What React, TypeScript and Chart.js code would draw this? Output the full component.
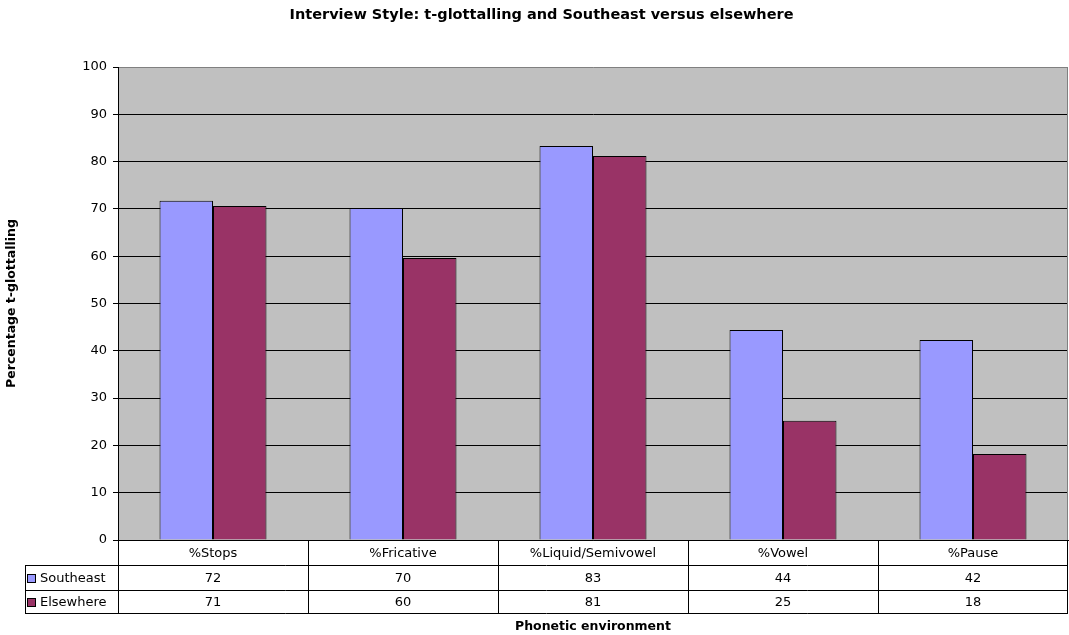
import React, { useEffect, useRef } from "react";
import { Chart, registerables } from "chart.js";

Chart.register(...registerables);

const CATEGORIES = ["%Stops", "%Fricative", "%Liquid/Semivowel", "%Vowel", "%Pause"];
const SOUTHEAST = [71.7, 70.2, 83.3, 44.4, 42.3];
const ELSEWHERE = [70.6, 59.6, 81.2, 25.2, 18.2];
const SERIES_NAMES = ["Southeast", "Elsewhere"];
const SERIES_COLORS = ["#9999FF", "#993366"];
const Y_TICK_STEP = 10;
const TITLE = "Interview Style: t-glottalling and Southeast versus elsewhere";
const X_TITLE = "Phonetic environment";
const Y_TITLE = "Percentage t-glottalling";

const FONT = "DejaVu Sans";

const plotPlugin = {
  id: "plotDecor",
  beforeDraw(chart: any) {
    const { ctx, chartArea: ca } = chart;
    ctx.save();
    ctx.fillStyle = "#C0C0C0";
    ctx.fillRect(ca.left, ca.top, ca.right - ca.left, ca.bottom - ca.top);
    ctx.restore();
  },
  afterDraw(chart: any) {
    const { ctx, chartArea: ca } = chart;
    const xs = chart.scales.x;
    ctx.save();
    ctx.strokeStyle = "#808080";
    ctx.lineWidth = 1;
    ctx.beginPath();
    ctx.moveTo(Math.round(ca.right) - 0.5, ca.top);
    ctx.lineTo(Math.round(ca.right) - 0.5, ca.bottom);
    ctx.stroke();

    const n = CATEGORIES.length;
    const step = xs.getPixelForValue(1) - xs.getPixelForValue(0);
    const top = Math.round(ca.bottom);
    const r1 = top + 25;
    const r2 = r1 + 25;
    const r3 = r2 + 23;
    const legendLeft = 25;
    const right = Math.round(ca.right);
    ctx.strokeStyle = "#000";
    ctx.beginPath();
    for (const y of [r1, r2, r3]) {
      ctx.moveTo(legendLeft, y + 0.5);
      ctx.lineTo(right, y + 0.5);
    }
    for (let i = 0; i <= n; i++) {
      const bx = Math.round(xs.getPixelForValue(i) - step / 2) + (i === n ? -0.5 : 0.5);
      ctx.moveTo(bx, top);
      ctx.lineTo(bx, r3 + 1);
    }
    ctx.moveTo(legendLeft + 0.5, r1);
    ctx.lineTo(legendLeft + 0.5, r3 + 1);
    ctx.stroke();

    ctx.fillStyle = "#000";
    ctx.font = `13px "${FONT}"`;
    ctx.textAlign = "center";
    ctx.textBaseline = "middle";
    const rows = [SOUTHEAST, ELSEWHERE];
    for (let i = 0; i < n; i++) {
      const cx = xs.getPixelForValue(i);
      ctx.fillText(CATEGORIES[i], cx, (top + r1) / 2 + 1);
      rows.forEach((vals, k) => {
        const ry = k === 0 ? (r1 + r2) / 2 + 1 : (r2 + r3) / 2 + 1;
        ctx.fillText(String(Math.round(vals[i])), cx, ry);
      });
    }
    ctx.textAlign = "left";
    SERIES_NAMES.forEach((name, k) => {
      const ry = k === 0 ? (r1 + r2) / 2 + 1 : (r2 + r3) / 2 + 1;
      ctx.fillStyle = SERIES_COLORS[k];
      ctx.fillRect(27, Math.round(ry - 5), 9, 9);
      ctx.strokeStyle = "#000";
      ctx.strokeRect(27.5, Math.round(ry - 5) + 0.5, 8, 8);
      ctx.fillStyle = "#000";
      ctx.fillText(name, 40, ry);
    });

    ctx.font = `bold 12.5px "${FONT}"`;
    ctx.textAlign = "center";
    ctx.textBaseline = "middle";
    ctx.fillText(X_TITLE, (ca.left + ca.right) / 2, 627);
    ctx.translate(12, (ca.top + ca.bottom) / 2);
    ctx.rotate(-Math.PI / 2);
    ctx.fillText(Y_TITLE, 0, 0);
    ctx.restore();
  },
};

export default function App() {
  const ref = useRef<HTMLCanvasElement | null>(null);
  useEffect(() => {
    if (!ref.current) return;
    Chart.defaults.font.family = FONT;
    Chart.defaults.font.size = 13;
    Chart.defaults.color = "#000";
    const chart = new Chart(ref.current, {
      type: "bar",
      data: {
        labels: CATEGORIES,
        datasets: [
          {
            label: SERIES_NAMES[0],
            data: SOUTHEAST,
            backgroundColor: SERIES_COLORS[0],
            borderColor: "#000",
            borderWidth: 1,
            categoryPercentage: 0.563,
            barPercentage: 1,
          },
          {
            label: SERIES_NAMES[1],
            data: ELSEWHERE,
            backgroundColor: SERIES_COLORS[1],
            borderColor: "#000",
            borderWidth: 1,
            categoryPercentage: 0.563,
            barPercentage: 1,
          },
        ],
      },
      options: {
        responsive: false,
        animation: false,
        layout: { padding: { left: 15, right: 1, top: 0, bottom: 0 } },
        plugins: {
          legend: { display: false },
          tooltip: { enabled: false },
          title: {
            display: true,
            text: TITLE,
            color: "#000",
            font: { size: 14.5, weight: "bold", family: FONT, lineHeight: 1.2 },
            padding: { top: 7, bottom: 42.6 },
          },
        },
        scales: {
          x: {
            grid: { display: false, drawTicks: false },
            ticks: { display: false },
            border: { display: true, color: "#000", width: 1 },
            afterFit: (s: any) => {
              s.height = 95;
            },
          },
          y: {
            min: 0,
            max: 100,
            ticks: { stepSize: Y_TICK_STEP, color: "#000", padding: 6, font: { size: 13 } },
            grid: {
              color: (c: any) => (c.tick && c.tick.value === 100 ? "#808080" : "#000"),
              tickColor: "#000",
              tickLength: 5,
              lineWidth: 1,
            },
            border: { display: true, color: "#000", width: 1 },
            afterFit: (s: any) => {
              s.width = 103;
            },
          },
        },
      },
      plugins: [plotPlugin],
    } as any);
    return () => chart.destroy();
  }, []);
  return (
    <div style={{ position: "absolute", left: 0, top: 0, width: 1069, height: 635, background: "#fff" }}>
      <canvas ref={ref} width={1069} height={635} style={{ width: 1069, height: 635, display: "block" }} />
    </div>
  );
}
